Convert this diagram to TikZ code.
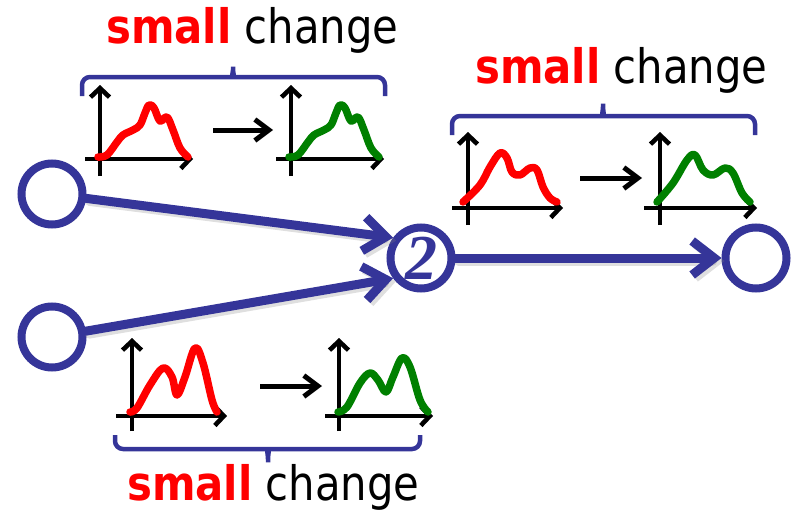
\documentclass[tikz,border=0pt]{standalone}
\usepackage{fontspec}
\setmainfont{DejaVu Sans}[FakeStretch=0.88]
\newfontfamily\twofont{Liberation Serif}[UprightFont={* Bold Italic}]
\usetikzlibrary{arrows.meta,shadows}
\definecolor{navy}{RGB}{53,53,153}
\definecolor{pgreen}{RGB}{0,128,0}
\begin{document}
\begin{tikzpicture}[x=1pt,y=-1pt,
  neuron/.style={circle, draw=navy, line width=8pt, fill=white, minimum size=61pt, inner sep=0pt,
    drop shadow={shadow xshift=3pt, shadow yshift=-3pt, opacity=0.3, fill=black!60}},
  conn/.style={draw=navy, line width=9pt, line cap=round, -{Straight Barb[length=22pt,width=34pt]}},
  connshadow/.style={draw=black!50, opacity=0.25, line width=9pt, line cap=round, -{Straight Barb[length=22pt,width=34pt]}},
  axis/.style={draw=black, line width=4.6pt, -{Straight Barb[length=9pt,width=19pt]}},
  chg/.style={draw=black, line width=5pt, -{Straight Barb[length=14pt,width=21pt]}},
  brace/.style={draw=navy, line width=4.5pt, rounded corners=8pt},
  curve/.style={line width=7.5pt, line cap=round, line join=round},
  lbl/.style={anchor=base west, inner sep=0pt, font=\fontsize{47.5}{50}\selectfont}
]
\useasboundingbox (0,0) rectangle (801,514);

% ---------- neurons ----------
\node[neuron] (n1) at (52,194) {};
\node[neuron] (n3) at (52,337) {};
\node[neuron] (n2) at (421,258) {\twofont\fontsize{64}{64}\selectfont\color{navy}\raisebox{-4pt}{2}};
\node[neuron] (n4) at (756,258) {};

% ---------- connectors ----------
\begin{scope}[transform canvas={shift={(3pt,-3pt)}}]
\draw[connshadow] (n1) -- (n2.144);
\draw[connshadow] (n3) -- (n2.216);
\draw[connshadow] (n2) -- (n4);
\end{scope}
\draw[conn] (n1) -- (n2.144);
\draw[conn] (n3) -- (n2.216);
\draw[conn] (n2) -- (n4);

% ---------- top-left plots ----------
\begin{scope}[shift={(100,159)}]
  \coordinate (a1o) at (0,17); \coordinate (a1t) at (0,-74);
  \coordinate (a1l) at (-15,0); \coordinate (a1r) at (93,0);
  \draw[axis] (a1o) -- (a1t);
  \draw[axis] (a1l) -- (a1r);
  \draw[curve, red] plot[smooth, tension=0.6] coordinates {(-2,-2) (7,-4) (17,-17) (23,-24) (33,-29) (40,-34) (45,-46) (49,-54) (54,-51) (60,-38) (67,-42) (73,-29) (80,-11) (88,-2)};
\end{scope}
\begin{scope}[shift={(291,159)}]
  \coordinate (a2o) at (0,17); \coordinate (a2t) at (0,-74);
  \coordinate (a2l) at (-15,0); \coordinate (a2r) at (93,0);
  \draw[axis] (a2o) -- (a2t);
  \draw[axis] (a2l) -- (a2r);
  \draw[curve, pgreen] plot[smooth, tension=0.6] coordinates {(-2,-2) (7,-4) (17,-17) (23,-24) (33,-29) (40,-34) (45,-46) (49,-54) (54,-51) (60,-38) (67,-42) (73,-29) (80,-11) (88,-2)};
\end{scope}
\coordinate (c1s) at (213,130); \coordinate (c1e) at (273,130);
\draw[chg] (c1s) -- (c1e);

% ---------- top-right plots ----------
\begin{scope}[shift={(468,208)}]
  \coordinate (a3o) at (0,17); \coordinate (a3t) at (0,-76);
  \coordinate (a3l) at (-16,0); \coordinate (a3r) at (95,0);
  \draw[axis] (a3o) -- (a3t);
  \draw[axis] (a3l) -- (a3r);
  \draw[curve, red] plot[smooth, tension=0.6] coordinates {(-5,-6) (12,-23) (22,-41) (32,-55) (39,-50) (44,-36) (52,-33) (62,-40) (69,-38) (75,-21) (82,-10) (89,-6)};
\end{scope}
\begin{scope}[shift={(660,208)}]
  \coordinate (a4o) at (0,17); \coordinate (a4t) at (0,-76);
  \coordinate (a4l) at (-16,0); \coordinate (a4r) at (97,0);
  \draw[axis] (a4o) -- (a4t);
  \draw[axis] (a4l) -- (a4r);
  \draw[curve, pgreen] plot[smooth, tension=0.6] coordinates {(-3,-6) (13,-25) (27,-48) (35,-53) (43,-38) (53,-33) (65,-40) (73,-35) (82,-15) (90,-6)};
\end{scope}
\coordinate (c2s) at (580,178); \coordinate (c2e) at (642,178);
\draw[chg] (c2s) -- (c2e);

% ---------- bottom plots ----------
\begin{scope}[shift={(132,416)}]
  \coordinate (a5o) at (0,15); \coordinate (a5t) at (0,-78);
  \coordinate (a5l) at (-16,0); \coordinate (a5r) at (95,0);
  \draw[axis] (a5o) -- (a5t);
  \draw[axis] (a5l) -- (a5r);
  \draw[curve, red] plot[smooth, tension=0.6] coordinates {(-2,-4) (5,-8) (18,-31) (31,-48) (40,-39) (45,-21) (53,-39) (63,-68) (71,-53) (80,-16) (85,-4)};
\end{scope}
\begin{scope}[shift={(339,416)}]
  \coordinate (a6o) at (0,15); \coordinate (a6t) at (0,-78);
  \coordinate (a6l) at (-14,0); \coordinate (a6r) at (94,0);
  \draw[axis] (a6o) -- (a6t);
  \draw[axis] (a6l) -- (a6r);
  \draw[curve, pgreen] plot[smooth, tension=0.6] coordinates {(-1,-4) (8,-9) (21,-33) (31,-43) (39,-36) (47,-24) (54,-39) (63,-58) (71,-49) (81,-16) (89,-4)};
\end{scope}
\coordinate (c3s) at (260,386); \coordinate (c3e) at (322,386);
\draw[chg] (c3s) -- (c3e);

% ---------- braces ----------
\draw[brace] (82,96) |- (226,77) .. controls (231,77) and (233,72) .. (233,62) .. controls (233,72) and (235,77) .. (240,77) -| (385,96);
\draw[brace] (452,135) |- (596,116) .. controls (601,116) and (603,111) .. (603,99) .. controls (603,111) and (605,116) .. (610,116) -| (755,135);
\draw[brace] (115,435) |- (261,449) .. controls (266,449) and (268,454) .. (268,467) .. controls (268,454) and (270,449) .. (275,449) -| (420,435);

% ---------- labels ----------
\node[lbl] (t1) at (106,43) {\textcolor{red}{\bfseries small} change};
\node[lbl] (t2) at (475,83) {\textcolor{red}{\bfseries small} change};
\node[lbl] (t3) at (127,500) {\textcolor{red}{\bfseries small} change};
\end{tikzpicture}
\end{document}
